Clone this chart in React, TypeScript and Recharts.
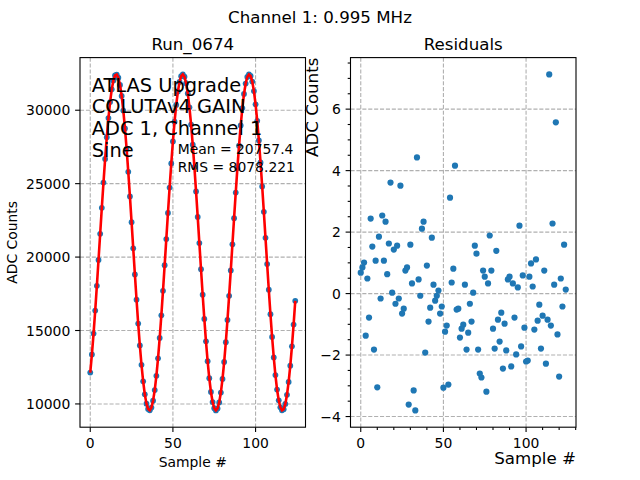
import React from 'react';
import { ComposedChart, Scatter, Line, XAxis, YAxis, CartesianGrid } from 'recharts';

// ADC samples of the 0.995 MHz sine, one per sample number (0..124)
const adcCounts = [
  12135, 13370, 14788, 16360, 18043, 19800, 21585, 23357, 25070, 26686,
  28160, 29463, 30557, 31420, 32028, 32367, 32430, 32212, 31723, 30971,
  29978, 28763, 27364, 25804, 24130, 22378, 20593, 18820, 17097, 15471,
  13979, 12660, 11543, 10656, 10021, 9655, 9565, 9753, 10217, 10942,
  11913, 13105, 14491, 16034, 17700, 19443, 21228, 23004, 24734, 26371,
  27877, 29216, 30359, 31267, 31927, 32321, 32439, 32278, 31843, 31143,
  30194, 29023, 27657, 26125, 24472, 22732, 20952, 19171, 17436, 15787,
  14265, 12907, 11748, 10813, 10127, 9706, 9560, 9693, 10102, 10776,
  11700, 12855, 14200, 15715, 17359, 19090, 20871, 22652, 24394, 26053,
  27589, 28967, 30145, 31104, 31817, 32264, 32438, 32332, 31951, 31303,
  30403, 29275, 27945, 26443, 24811, 23084, 21309, 19524, 17777, 16107,
  14558, 13166, 11962, 10981, 10244, 9768, 9567, 9645, 9998, 10620,
  11497, 12604, 13921, 15401, 17020,
];

// fit residuals, same sample numbers
const residuals = [
  0.68, 0.85, 1.01, -1.37, 0.49, -0.78, 2.44, 1.53, -1.82, 1.07,
  -3.05, 1.85, -0.16, 2.54, 1.07, 2.34, 0.63, 1.63, 3.61, 0.03,
  1.43, -0.33, 1.56, -0.16, 3.51, -0.65, -0.49, 0.75, 0.85, -3.61,
  1.59, 0.33, -3.15, -3.8, 4.43, 0.46, -0.07, 2.11, 2.34, -1.92,
  0.91, -0.91, -0.46, 1.82, 0.29, -0.23, -0.07, 0.1, -0.65, -0.42,
  -3.06, -1.24, -1.04, -2.96, 3.12, 0.36, 0.81, 4.16, -0.52, -0.49,
  -1.43, -1.14, -1.01, 0.29, -1.82, -1.27, -0.33, -0.91, 0.03, 1.56,
  1.3, -1.82, -2.6, -2.73, 0.75, 0.55, -3.19, 0.33, 1.89, 0.75,
  -1.14, -1.79, 1.39, -0.85, -1.56, -0.62, -2.44, -0.98, -1.85, 0.46,
  0.55, -2.37, 0.33, -0.78, -1.98, 0.2, 2.21, -1.72, 0.59, -1.11,
  -2.21, -2.18, 0.55, 0.98, 0.23, -1.17, 1.11, -0.88, -0.36, -1.79,
  -0.72, 0.75, -2.28, -0.85, 7.13, -1.04, 2.28, 0.29, 5.57, -1.33,
  -2.7, 0.49, -0.42, 1.59, 0.13,
];

const sampleTicks = [0, 50, 100];
const sampleMinorTicks = [10, 20, 30, 40, 60, 70, 80, 90, 110, 120, 130];
const adcTicks = [10000, 15000, 20000, 25000, 30000];
const residualTicks = [-4, -2, 0, 2, 4, 6];
const residualMinorTicks = [-3.5, -3, -2.5, -1.5, -1, -0.5, 0.5, 1, 1.5, 2.5, 3, 3.5, 4.5, 5, 5.5, 6.5, 7, 7.5];

const infoLines = ['ATLAS Upgrade', 'COLUTAv4 GAIN', 'ADC 1, Channel 1', 'Sine'];
const statLines = ['Mean = 20757.4', 'RMS = 8078.221'];

const adcRows = adcCounts.map((adc, i) => ({ sample: i, adc }));
const residualRows = residuals.map((residual, i) => ({ sample: i, residual }));

const FONT = '"DejaVu Sans", sans-serif';
const BLUE = '#1f77b4';
const TOP = 57.6;
const BOTTOM = 427.2;

const minus = (v: number) => String(v).replace('-', '\u2212');

const makeXTick = (majors: number[]) => (props: any) => {
  const { x, y, payload } = props;
  const major = majors.includes(payload.value);
  return (
    <g>
      <line x1={x} x2={x} y1={y} y2={y + (major ? 4.9 : 2.8)} stroke="#000" strokeWidth={1.1} />
      {major && (
        <text x={x} y={y + 20.4} textAnchor="middle" fontSize={13.9} fontFamily={FONT} fill="#000">
          {minus(payload.value)}
        </text>
      )}
    </g>
  );
};

const makeYTick = (majors: number[]) => (props: any) => {
  const { x, y, payload } = props;
  const major = majors.includes(payload.value);
  return (
    <g>
      <line x1={x} x2={x - (major ? 4.9 : 2.8)} y1={y} y2={y} stroke="#000" strokeWidth={1.1} />
      {major && (
        <text x={x - 9.7} y={y + 5} textAnchor="end" fontSize={13.9} fontFamily={FONT} fill="#000">
          {minus(payload.value)}
        </text>
      )}
    </g>
  );
};

const smallDot = (p: any) => <circle cx={p.cx} cy={p.cy} r={2.9} fill={BLUE} />;
const bigDot = (p: any) => <circle cx={p.cx} cy={p.cy} r={3.1} fill={BLUE} />;

const gridProps = { stroke: '#b0b0b0', strokeDasharray: '4.1 1.8', strokeWidth: 1.1 };

export default function App() {
  return (
    <div style={{ position: 'absolute', left: 0, top: 0, width: 640, height: 480, background: '#fff' }}>
      <div style={{ position: 'absolute', left: 0, top: 0 }}>
        <ComposedChart width={320} height={480} data={adcRows} margin={{ top: TOP, right: 14.5, bottom: 22.8, left: 20 }}>
          <CartesianGrid {...gridProps} verticalValues={sampleTicks} horizontalValues={adcTicks} />
          <XAxis
            dataKey="sample" type="number" domain={[-6.2, 130.2]} allowDataOverflow
            ticks={sampleTicks} interval={0} tickSize={0} tickMargin={0} tickLine={false} axisLine={false}
            tick={makeXTick(sampleTicks)} height={30}
          />
          <YAxis
            dataKey="adc" type="number" domain={[8416, 33583]} allowDataOverflow
            ticks={adcTicks} interval={0} tickSize={0} tickMargin={0} tickLine={false} axisLine={false}
            tick={makeYTick(adcTicks)} width={60}
          />
          <Scatter data={adcRows} dataKey="adc" shape={smallDot} isAnimationActive={false} />
          <Line dataKey="adc" type="linear" stroke="#ff0000" strokeWidth={2.6} dot={false} activeDot={false} isAnimationActive={false} zIndex={700} />
        </ComposedChart>
      </div>
      <div style={{ position: 'absolute', left: 320, top: 0 }}>
        <ComposedChart width={320} height={480} data={residualRows} margin={{ top: TOP, right: 64, bottom: 22.8, left: 5.5 }}>
          <CartesianGrid {...gridProps} verticalValues={sampleTicks} horizontalValues={residualTicks} />
          <XAxis
            dataKey="sample" type="number" domain={[-6.2, 130.2]} allowDataOverflow
            ticks={[...sampleTicks, ...sampleMinorTicks]} interval={0} tickSize={0} tickMargin={0}
            tickLine={false} axisLine={false} tick={makeXTick(sampleTicks)} height={30}
          />
          <YAxis
            dataKey="residual" type="number" domain={[-4.3465, 7.6765]} allowDataOverflow
            ticks={[...residualTicks, ...residualMinorTicks]} interval={0} tickSize={0} tickMargin={0}
            tickLine={false} axisLine={false} tick={makeYTick(residualTicks)} width={25}
          />
          <Scatter data={residualRows} dataKey="residual" shape={bigDot} isAnimationActive={false} />
        </ComposedChart>
      </div>
      <svg width={640} height={480} style={{ position: 'absolute', left: 0, top: 0, pointerEvents: 'none' }} fontFamily={FONT}>
        <rect x={80} y={TOP} width={225.5} height={BOTTOM - TOP} fill="none" stroke="#000" strokeWidth={1.1} />
        <rect x={350.5} y={TOP} width={225.5} height={BOTTOM - TOP} fill="none" stroke="#000" strokeWidth={1.1} />
        <text x={320} y={23} textAnchor="middle" fontSize={16.67}>Channel 1: 0.995 MHz</text>
        <text x={192.75} y={49.5} textAnchor="middle" fontSize={16.67}>Run_0674</text>
        <text x={463.25} y={49.5} textAnchor="middle" fontSize={16.67}>Residuals</text>
        {infoLines.map((t, i) => (
          <text key={t} x={91.7} y={91.7 + i * 21.7} fontSize={19.4}>{t}</text>
        ))}
        {statLines.map((t, i) => (
          <text key={t} x={177.7} y={154 + i * 17.7} fontSize={13.9}>{t}</text>
        ))}
        <text x={17.2} y={242.4} textAnchor="middle" fontSize={13.9} transform="rotate(-90 17.2 242.4)">ADC Counts</text>
        <text x={192.75} y={466.5} textAnchor="middle" fontSize={13.9}>Sample #</text>
        <text x={318} y={TOP} textAnchor="end" fontSize={16.67} transform={`rotate(-90 318 ${TOP})`}>ADC Counts</text>
        <text x={576} y={464} textAnchor="end" fontSize={16.67}>Sample #</text>
      </svg>
    </div>
  );
}
